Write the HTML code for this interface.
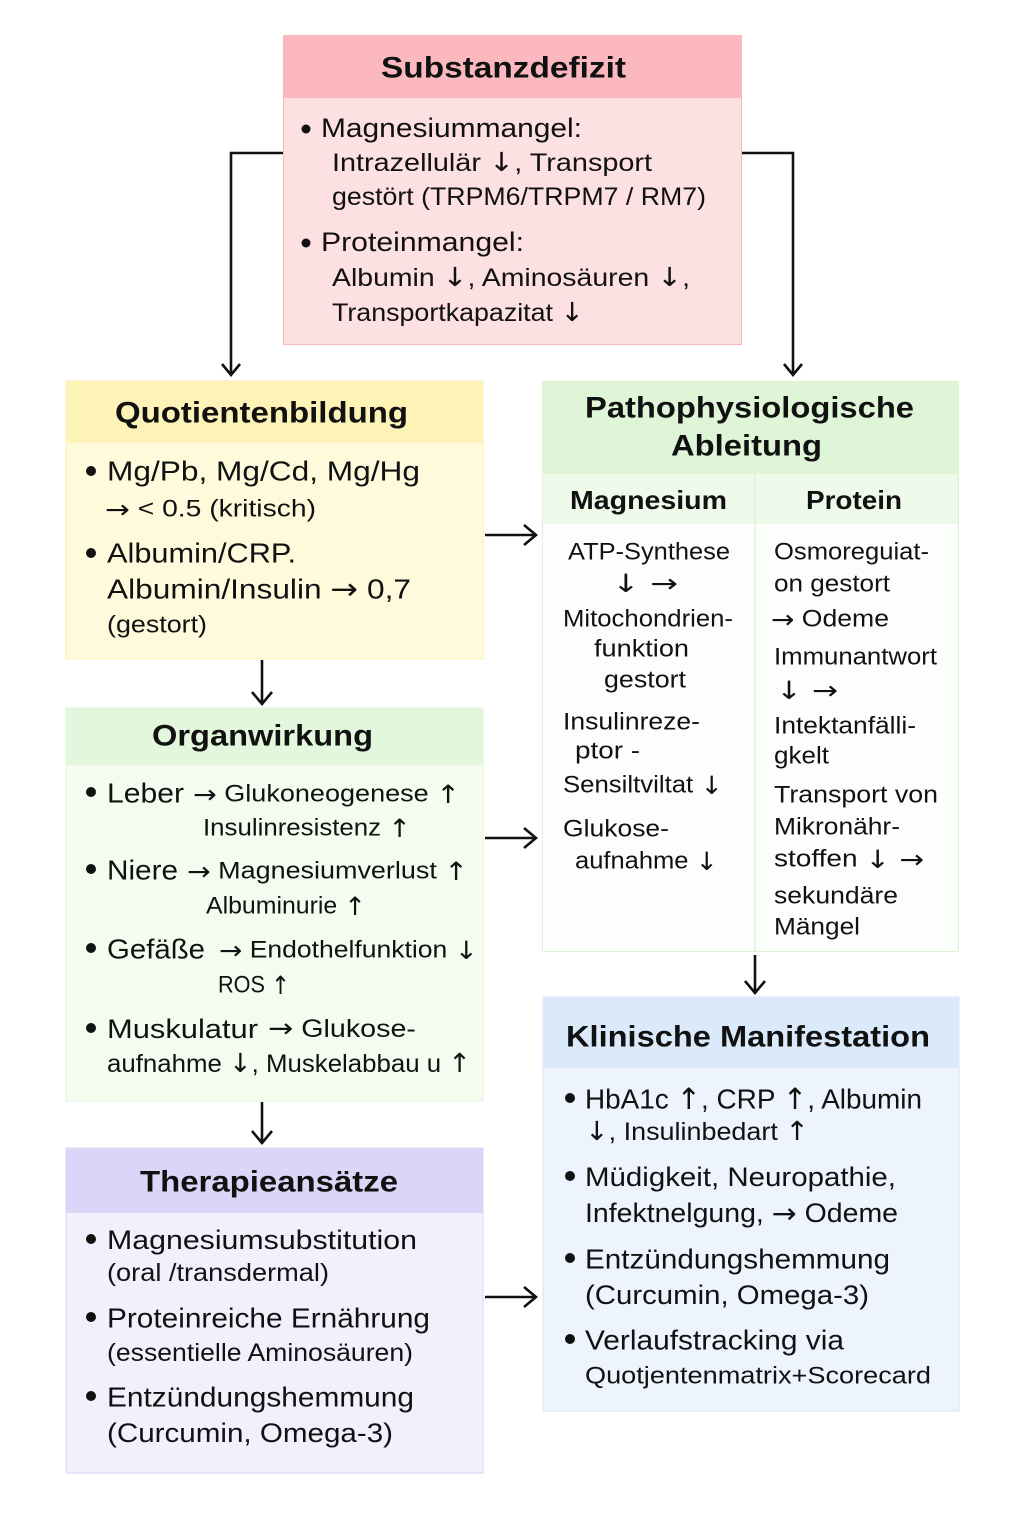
<!DOCTYPE html>
<html><head><meta charset="utf-8"><style>
html,body{margin:0;padding:0;background:#fff;}
svg{display:block}
text{font-family:"Liberation Sans",sans-serif;fill:#111;dominant-baseline:central}
.h{font-weight:bold}
.a{font-family:"DejaVu Sans",sans-serif;font-size:1.05em}
</style></head><body>
<svg width="1024" height="1536" viewBox="0 0 1024 1536" xmlns="http://www.w3.org/2000/svg">
<g stroke="#111" stroke-width="2.6" fill="none">
<polyline points="283,153 231,153 231,375"/>
<polyline points="222,364 231,375 240,364"/>
<polyline points="741,153 793,153 793,375"/>
<polyline points="784,364 793,375 802,364"/>
<line x1="485" y1="535" x2="536" y2="535"/><polyline points="524,525 536,535 524,545"/>
<line x1="485" y1="838" x2="536" y2="838"/><polyline points="524,828 536,838 524,848"/>
<line x1="485" y1="1297" x2="536" y2="1297"/><polyline points="524,1287 536,1297 524,1307"/>
<line x1="262" y1="660" x2="262" y2="704"/><polyline points="252,692 262,704 272,692"/>
<line x1="262" y1="1102" x2="262" y2="1143"/><polyline points="252,1131 262,1143 272,1131"/>
<line x1="755" y1="955" x2="755" y2="993"/><polyline points="745,981 755,993 765,981"/>
</g>
<rect x="283.5" y="35.5" width="458" height="309" fill="#fde0e1" stroke="#f7b9bd"/>
<rect x="284" y="36" width="457" height="62" fill="#fbb8bf"/>
<text class="h" x="381" y="68" font-size="30" textLength="245" lengthAdjust="spacingAndGlyphs">Substanzdefizit</text>
<circle cx="306" cy="129" r="4.5" fill="#111"/>
<text x="321" y="128" font-size="27" textLength="261" lengthAdjust="spacingAndGlyphs">Magnesiummangel:</text>
<text x="332" y="163" font-size="25" textLength="320" lengthAdjust="spacingAndGlyphs">Intrazellulär <tspan class="a">↓</tspan>, Transport</text>
<text x="332" y="197" font-size="25" textLength="374" lengthAdjust="spacingAndGlyphs">gestört (TRPM6/TRPM7 / RM7)</text>
<circle cx="306" cy="243" r="4.5" fill="#111"/>
<text x="321" y="242" font-size="27" textLength="203" lengthAdjust="spacingAndGlyphs">Proteinmangel:</text>
<text x="332" y="278" font-size="25" textLength="358" lengthAdjust="spacingAndGlyphs">Albumin <tspan class="a">↓</tspan>, Aminosäuren <tspan class="a">↓</tspan>,</text>
<text x="332" y="313" font-size="25" textLength="252" lengthAdjust="spacingAndGlyphs">Transportkapazitat <tspan class="a">↓</tspan></text>
<rect x="66" y="381" width="417" height="278" fill="#fefadb" stroke="#fbeeb0"/>
<rect x="66" y="381" width="417" height="62" fill="#fdf3b6"/>
<text class="h" x="115" y="413" font-size="30" textLength="293" lengthAdjust="spacingAndGlyphs">Quotientenbildung</text>
<circle cx="91" cy="471" r="5" fill="#111"/>
<text x="107" y="471" font-size="28" textLength="313" lengthAdjust="spacingAndGlyphs">Mg/Pb, Mg/Cd, Mg/Hg</text>
<text x="105" y="509" font-size="24" textLength="211" lengthAdjust="spacingAndGlyphs"><tspan class="a">→</tspan> &lt; 0.5 (kritisch)</text>
<circle cx="91" cy="553" r="5" fill="#111"/>
<text x="107" y="553" font-size="28" textLength="189" lengthAdjust="spacingAndGlyphs">Albumin/CRP.</text>
<text x="107" y="589" font-size="28" textLength="304" lengthAdjust="spacingAndGlyphs">Albumin/Insulin <tspan class="a">→</tspan>  0,7</text>
<text x="107" y="625" font-size="24" textLength="100" lengthAdjust="spacingAndGlyphs">(gestort)</text>
<rect x="542.5" y="381.5" width="416" height="570" fill="#fbfefa" stroke="#dcf3d4"/>
<rect x="543" y="382" width="415" height="92" fill="#dff5d8"/>
<rect x="543" y="474" width="415" height="49" fill="#eefaea"/>
<line x1="755" y1="474" x2="755" y2="951" stroke="#dcf3d4" stroke-width="1.5"/>
<line x1="543" y1="523" x2="958" y2="523" stroke="#e6f6e0" stroke-width="1"/>
<text class="h" x="585" y="408" font-size="30" textLength="329" lengthAdjust="spacingAndGlyphs">Pathophysiologische</text>
<text class="h" x="671" y="446" font-size="30" textLength="151" lengthAdjust="spacingAndGlyphs">Ableitung</text>
<text class="h" x="570" y="500" font-size="26" textLength="157" lengthAdjust="spacingAndGlyphs">Magnesium</text>
<text class="h" x="806" y="500" font-size="26" textLength="96" lengthAdjust="spacingAndGlyphs">Protein</text>
<g font-size="24">
<text x="568" y="552" textLength="162" lengthAdjust="spacingAndGlyphs">ATP-Synthese</text>
<text x="612" y="583" textLength="66" lengthAdjust="spacingAndGlyphs"><tspan class="a">↓ →</tspan></text>
<text x="563" y="619" textLength="170" lengthAdjust="spacingAndGlyphs">Mitochondrien-</text>
<text x="594" y="649" textLength="95" lengthAdjust="spacingAndGlyphs">funktion</text>
<text x="604" y="680" textLength="82" lengthAdjust="spacingAndGlyphs">gestort</text>
<text x="563" y="722" textLength="137" lengthAdjust="spacingAndGlyphs">Insulinreze-</text>
<text x="575" y="751" textLength="65" lengthAdjust="spacingAndGlyphs">ptor -</text>
<text x="563" y="785" textLength="160" lengthAdjust="spacingAndGlyphs">Sensiltviltat <tspan class="a">↓</tspan></text>
<text x="563" y="829" textLength="106" lengthAdjust="spacingAndGlyphs">Glukose-</text>
<text x="575" y="861" textLength="143" lengthAdjust="spacingAndGlyphs">aufnahme <tspan class="a">↓</tspan></text>
<text x="774" y="552" textLength="155" lengthAdjust="spacingAndGlyphs">Osmoreguiat-</text>
<text x="774" y="584" textLength="116" lengthAdjust="spacingAndGlyphs">on gestort</text>
<text x="771" y="619" textLength="118" lengthAdjust="spacingAndGlyphs"><tspan class="a">→</tspan> Odeme</text>
<text x="774" y="657" textLength="163" lengthAdjust="spacingAndGlyphs">Immunantwort</text>
<text x="776" y="690" textLength="62" lengthAdjust="spacingAndGlyphs"><tspan class="a">↓ →</tspan></text>
<text x="774" y="726" textLength="142" lengthAdjust="spacingAndGlyphs">Intektanfälli-</text>
<text x="774" y="756" textLength="55" lengthAdjust="spacingAndGlyphs">gkelt</text>
<text x="774" y="795" textLength="164" lengthAdjust="spacingAndGlyphs">Transport von</text>
<text x="774" y="827" textLength="126" lengthAdjust="spacingAndGlyphs">Mikronähr-</text>
<text x="774" y="859" textLength="150" lengthAdjust="spacingAndGlyphs">stoffen <tspan class="a">↓ →</tspan></text>
<text x="774" y="896" textLength="124" lengthAdjust="spacingAndGlyphs">sekundäre</text>
<text x="774" y="927" textLength="86" lengthAdjust="spacingAndGlyphs">Mängel</text>
</g>
<rect x="66" y="708" width="417" height="393" fill="#f4fcf0" stroke="#e2f5da"/>
<rect x="66" y="708" width="417" height="57" fill="#e2f7dc"/>
<text class="h" x="152" y="736" font-size="30" textLength="221" lengthAdjust="spacingAndGlyphs">Organwirkung</text>
<circle cx="91" cy="792" r="5" fill="#111"/>
<text x="107" y="793" font-size="28" textLength="77" lengthAdjust="spacingAndGlyphs">Leber</text>
<text x="193" y="794" font-size="24" textLength="267" lengthAdjust="spacingAndGlyphs"><tspan class="a">→</tspan> Glukoneogenese <tspan class="a">↑</tspan></text>
<text x="203" y="828" font-size="24" textLength="208" lengthAdjust="spacingAndGlyphs">Insulinresistenz <tspan class="a">↑</tspan></text>
<circle cx="91" cy="869" r="5" fill="#111"/>
<text x="107" y="870" font-size="28" textLength="71" lengthAdjust="spacingAndGlyphs">Niere</text>
<text x="187" y="871" font-size="24" textLength="281" lengthAdjust="spacingAndGlyphs"><tspan class="a">→</tspan> Magnesiumverlust <tspan class="a">↑</tspan></text>
<text x="206" y="906" font-size="24" textLength="160" lengthAdjust="spacingAndGlyphs">Albuminurie <tspan class="a">↑</tspan></text>
<circle cx="91" cy="948" r="5" fill="#111"/>
<text x="107" y="949" font-size="28" textLength="98" lengthAdjust="spacingAndGlyphs">Gefäße</text>
<text x="219" y="950" font-size="24" textLength="259" lengthAdjust="spacingAndGlyphs"><tspan class="a">→</tspan> Endothelfunktion <tspan class="a">↓</tspan></text>
<text x="218" y="985" font-size="24" textLength="72" lengthAdjust="spacingAndGlyphs">ROS <tspan class="a">↑</tspan></text>
<circle cx="91" cy="1028" r="5" fill="#111"/>
<text x="107" y="1029" font-size="27" textLength="151" lengthAdjust="spacingAndGlyphs">Muskulatur</text>
<text x="268" y="1029" font-size="25" textLength="148" lengthAdjust="spacingAndGlyphs"><tspan class="a">→</tspan> Glukose-</text>
<text x="107" y="1064" font-size="25" textLength="364" lengthAdjust="spacingAndGlyphs">aufnahme <tspan class="a">↓</tspan>, Muskelabbau u <tspan class="a">↑</tspan></text>
<rect x="66" y="1148" width="417" height="325" fill="#f3effc" stroke="#ddd3f5"/>
<rect x="66" y="1148" width="417" height="65" fill="#ddd5f7"/>
<text class="h" x="140" y="1182" font-size="30" textLength="258" lengthAdjust="spacingAndGlyphs">Therapieansätze</text>
<circle cx="91" cy="1239" r="5" fill="#111"/>
<text x="107" y="1240" font-size="27" textLength="310" lengthAdjust="spacingAndGlyphs">Magnesiumsubstitution</text>
<text x="107" y="1273" font-size="25" textLength="222" lengthAdjust="spacingAndGlyphs">(oral /transdermal)</text>
<circle cx="91" cy="1317" r="5" fill="#111"/>
<text x="107" y="1318" font-size="28" textLength="323" lengthAdjust="spacingAndGlyphs">Proteinreiche Ernährung</text>
<text x="107" y="1353" font-size="25" textLength="306" lengthAdjust="spacingAndGlyphs">(essentielle Aminosäuren)</text>
<circle cx="91" cy="1396" r="5" fill="#111"/>
<text x="107" y="1397" font-size="28" textLength="307" lengthAdjust="spacingAndGlyphs">Entzündungshemmung</text>
<text x="107" y="1433" font-size="27" textLength="286" lengthAdjust="spacingAndGlyphs">(Curcumin, Omega-3)</text>
<rect x="543" y="997" width="416" height="414" fill="#eef4fd" stroke="#d8e6f8"/>
<rect x="543" y="997" width="416" height="71" fill="#dbeafb"/>
<text class="h" x="566" y="1037" font-size="30" textLength="364" lengthAdjust="spacingAndGlyphs">Klinische Manifestation</text>
<circle cx="570" cy="1098" r="5" fill="#111"/>
<text x="585" y="1099" font-size="28" textLength="337" lengthAdjust="spacingAndGlyphs">HbA1c <tspan class="a">↑</tspan>, CRP <tspan class="a">↑</tspan>, Albumin</text>
<text x="585" y="1132" font-size="25" textLength="224" lengthAdjust="spacingAndGlyphs"><tspan class="a">↓</tspan>, Insulinbedart <tspan class="a">↑</tspan></text>
<circle cx="570" cy="1176" r="5" fill="#111"/>
<text x="585" y="1177" font-size="27" textLength="311" lengthAdjust="spacingAndGlyphs">Müdigkeit, Neuropathie,</text>
<text x="585" y="1213" font-size="27" textLength="313" lengthAdjust="spacingAndGlyphs">Infektnelgung, <tspan class="a">→</tspan> Odeme</text>
<circle cx="570" cy="1258" r="5" fill="#111"/>
<text x="585" y="1259" font-size="28" textLength="305" lengthAdjust="spacingAndGlyphs">Entzündungshemmung</text>
<text x="585" y="1295" font-size="27" textLength="284" lengthAdjust="spacingAndGlyphs">(Curcumin, Omega-3)</text>
<circle cx="570" cy="1339" r="5" fill="#111"/>
<text x="585" y="1340" font-size="28" textLength="259" lengthAdjust="spacingAndGlyphs">Verlaufstracking via</text>
<text x="585" y="1376" font-size="24" textLength="346" lengthAdjust="spacingAndGlyphs">Quotjentenmatrix+Scorecard</text>
</svg>
</body></html>
